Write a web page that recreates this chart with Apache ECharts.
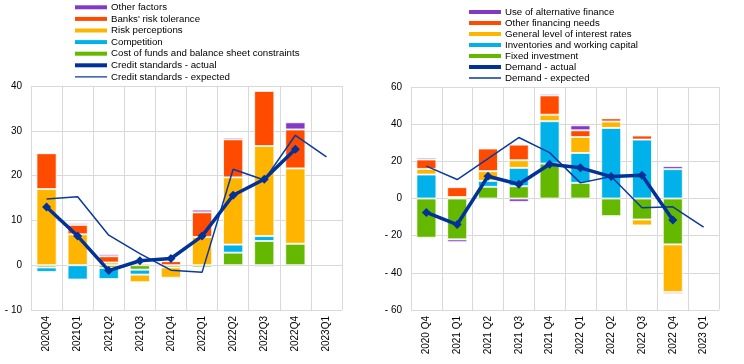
<!DOCTYPE html>
<html>
<head>
<meta charset="utf-8">
<script src="https://cdn.jsdelivr.net/npm/echarts@6/dist/echarts.min.js"></script>
<style>
html,body{margin:0;padding:0;background:#fff;}
#c{width:744px;height:364px;}
</style>
</head>
<body>
<div id="c"></div>
<script>
// ---- Left chart: credit standards ----
var catsL = ['2020Q4','2021Q1','2021Q2','2021Q3','2021Q4','2022Q1','2022Q2','2022Q3','2022Q4','2023Q1'];
var costFunds   = [-0.5, 0, -0.6, -1.0, -0.5, -0.5, 2.8, 5.4, 4.8, null];
var competition = [-1.0, -3.2, -2.5, -1.1, 0, 0, 1.8, 1.1, 0, null];
var riskPerc    = [17, 6.9, 0.6, -1.7, -2.3, 6.3, 15.0, 20.1, 16.8, null];
var riskTol     = [8, 2.1, 1.4, 0.4, 0.9, 5.5, 8.5, 12.3, 8.7, null];
var otherFact   = [0, 0.4, 0.5, 0, 0, 0.6, 0.4, -0.4, 1.6, null];
var csActual    = [13, 6.5, -1.2, 1.0, 1.5, 6.5, 15.6, 19.2, 25.9, null];
var csExpected  = [14.8, 15.3, 6.7, 2.6, -1.1, -1.6, 21.4, 19.0, 29.0, 24.2];
var ticksL = {min: -10, max: 40, interval: 10};

// ---- Right chart: demand ----
var catsR = ['2020 Q4','2021 Q1','2021 Q2','2021 Q3','2021 Q4','2022 Q1','2022 Q2','2022 Q3','2022 Q4','2023 Q1'];
var fixedInv    = [-21.1, -22.0, 6.3, 6.6, 18.8, 8.4, -9.5, -11.3, -24.7, null];
var inventories = [12.9, 0, 3.2, 9.9, 22.8, 16.1, 38.0, 31.7, 15.8, null];
var interestR   = [3.0, 0.8, 5.2, 4.1, 3.5, 8.6, 3.4, -3.2, -25.6, null];
var otherFin    = [5.1, 5.3, 12.2, 8.4, 10.4, 3.6, 1.8, 2.2, -1.1, null];
var altFin      = [1.0, -1.5, 0, -1.8, 0.9, 2.7, 0, 0, 1.6, null];
var dActual     = [-7.5, -14.0, 12.0, 7.7, 18.4, 16.5, 11.8, 12.5, -11.6, null];
var dExpected   = [17.4, 10.2, 21.5, 32.8, 24.7, 8.4, 11.8, -5.0, -4.5, -15.4];
var ticksR = {min: -60, max: 60, interval: 20};

var C = {purple:'#8139c6', red:'#ff4b00', orange:'#ffb400', blue:'#00b1ea', green:'#65b800', navy:'#003299', navy2:'#0a3a9c'};
var FONT = "'Liberation Sans', Arial, sans-serif";
var THIN_ICON = 'path://M0,0 L32,0 M0,1.3 L32,1.3 L32,2.7 L0,2.7 Z M0,4 L32,4';

function bar(name, data, color, idx, stack) {
  return {
    name: name, type: 'bar', data: data, stack: stack,
    xAxisIndex: idx, yAxisIndex: idx, barWidth: '65%',
    itemStyle: {color: color, borderColor: 'rgba(255,255,255,0.75)', borderWidth: 1},
    emphasis: {disabled: true}, z: 2
  };
}
function actualLine(name, data, idx) {
  return {
    name: name, type: 'line', data: data, xAxisIndex: idx, yAxisIndex: idx,
    symbol: 'diamond', symbolSize: 9, showSymbol: true,
    lineStyle: {color: C.navy, width: 3.5}, itemStyle: {color: C.navy},
    z: 5, emphasis: {disabled: true}
  };
}
function expectedLine(name, data, idx) {
  return {
    name: name, type: 'line', data: data, xAxisIndex: idx, yAxisIndex: idx,
    symbol: 'none', showSymbol: false,
    lineStyle: {color: C.navy2, width: 1.5}, itemStyle: {color: C.navy2},
    z: 4, emphasis: {disabled: true}
  };
}
function yFmt(v) { return v < 0 ? '- ' + Math.abs(v) : String(v); }

function xAxis(cats, idx) {
  return {
    type: 'category', data: cats, gridIndex: idx, position: 'bottom',
    boundaryGap: true,
    axisLine: {show: false}, axisTick: {show: false},
    splitLine: {show: true, lineStyle: {color: '#d9d9d9', width: 1}},
    axisLabel: {interval: 0, rotate: 90, fontSize: 10, color: '#000', fontFamily: FONT, margin: 6}
  };
}
function yAxis(t, idx) {
  return {
    type: 'value', gridIndex: idx, min: t.min, max: t.max, interval: t.interval,
    axisLine: {show: false}, axisTick: {show: false},
    splitLine: {show: true, lineStyle: {color: '#d9d9d9', width: 1}},
    axisLabel: {fontSize: 10, color: '#000', fontFamily: FONT, margin: 9, formatter: yFmt}
  };
}
function legend(left, top, lh, names) {
  return {
    orient: 'vertical', left: left, top: top, itemWidth: 32, itemHeight: 4, itemGap: 0,
    padding: 0, selectedMode: false,
    itemStyle: {borderWidth: 0},
    textStyle: {fontSize: 9.7, color: '#000', fontFamily: FONT, lineHeight: lh, padding: [0,0,0,-1]},
    data: names.map(function (n, i) {
      if (i < 6) return {name: n, icon: 'rect'};
      return {name: n, icon: THIN_ICON};
    })
  };
}

var namesL = ['Other factors', "Banks' risk tolerance", 'Risk perceptions', 'Competition', 'Cost of funds and balance sheet constraints', 'Credit standards - actual', 'Credit standards - expected'];
var namesR = ['Use of alternative finance', 'Other financing needs', 'General level of interest rates', 'Inventories and working capital', 'Fixed investment', 'Demand - actual', 'Demand - expected'];

var option = {
  animation: false,
  backgroundColor: '#fff',
  textStyle: {fontFamily: FONT},
  legend: [
    legend(75, 1.5, 11.6, namesL),
    legend(469, 6.5, 11.0, namesR)
  ],
  grid: [
    {left: 31, top: 86, width: 311, height: 224},
    {left: 411, top: 87, width: 308, height: 223}
  ],
  xAxis: [xAxis(catsL, 0), xAxis(catsR, 1)],
  yAxis: [yAxis(ticksL, 0), yAxis(ticksR, 1)],
  series: [
    bar('Cost of funds and balance sheet constraints', costFunds, C.green, 0, 'L'),
    bar('Competition', competition, C.blue, 0, 'L'),
    bar('Risk perceptions', riskPerc, C.orange, 0, 'L'),
    bar("Banks' risk tolerance", riskTol, C.red, 0, 'L'),
    bar('Other factors', otherFact, C.purple, 0, 'L'),
    expectedLine('Credit standards - expected', csExpected, 0),
    actualLine('Credit standards - actual', csActual, 0),

    bar('Fixed investment', fixedInv, C.green, 1, 'R'),
    bar('Inventories and working capital', inventories, C.blue, 1, 'R'),
    bar('General level of interest rates', interestR, C.orange, 1, 'R'),
    bar('Other financing needs', otherFin, C.red, 1, 'R'),
    bar('Use of alternative finance', altFin, C.purple, 1, 'R'),
    expectedLine('Demand - expected', dExpected, 1),
    actualLine('Demand - actual', dActual, 1)
  ]
};
var chart = echarts.init(document.getElementById('c'), null, {renderer: 'canvas'});
chart.setOption(option);
</script>
</body>
</html>
